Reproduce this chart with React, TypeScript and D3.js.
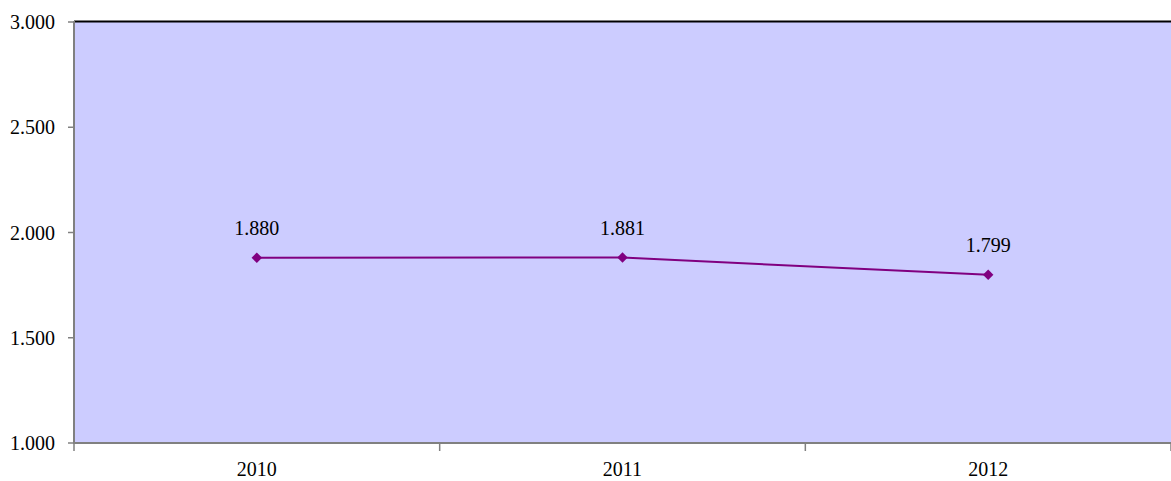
import React from "react";
import * as d3 from "d3";

const categories = ["2010", "2011", "2012"];
const values = [1.88, 1.881, 1.799];
const yTicks = [1.0, 1.5, 2.0, 2.5, 3.0];

const W = 1171;
const H = 481;
const M = { left: 74, right: 1171, top: 22, bottom: 443 };

export default function App() {
  const x = d3.scaleBand<string>().domain(categories).range([M.left, M.right]);
  const y = d3.scaleLinear().domain([1, 3]).range([M.bottom, M.top]);
  const fmt = (v: number) => d3.format(".3f")(v);
  const line = d3
    .line<number>()
    .x((_, i) => (x(categories[i]) as number) + x.bandwidth() / 2)
    .y((d) => y(d));
  const bounds = [...categories.map((c) => x(c) as number), M.right];
  const diamond = d3.symbol().type(d3.symbolDiamond2).size(70)();
  const font = "'Liberation Serif', 'Times New Roman', serif";
  const fs = 20;

  return (
    <svg
      width={W}
      height={H}
      style={{ position: "absolute", left: 0, top: 0 }}
      fontFamily={font}
    >
      <rect x={M.left} y={M.top} width={M.right - M.left} height={M.bottom - M.top} fill="#CCCCFF" />
      <line x1={M.left} x2={M.right} y1={M.top - 0.5} y2={M.top - 0.5} stroke="#000" strokeWidth={2} />
      {yTicks.map((t) => (
        <g key={t}>
          <line x1={M.left - 6} x2={M.left} y1={y(t)} y2={y(t)} stroke="#808080" strokeWidth={1.5} />
          <text x={55} y={y(t)} dy="0.35em" textAnchor="end" fontSize={fs} fill="#000">
            {fmt(t)}
          </text>
        </g>
      ))}
      <line x1={M.left} x2={M.left} y1={M.top - 1} y2={M.bottom + 1} stroke="#808080" strokeWidth={2} />
      <line x1={M.left} x2={M.right} y1={M.bottom} y2={M.bottom} stroke="#808080" strokeWidth={2} />
      {bounds.map((b, i) => (
        <line key={i} x1={b} x2={b} y1={M.bottom} y2={M.bottom + 8} stroke="#808080" strokeWidth={1.5} />
      ))}
      {categories.map((c) => (
        <text key={c} x={(x(c) as number) + x.bandwidth() / 2} y={476} textAnchor="middle" fontSize={fs} fill="#000">
          {c}
        </text>
      ))}
      <path d={line(values) as string} fill="none" stroke="#800080" strokeWidth={2} />
      {values.map((v, i) => {
        const cx = (x(categories[i]) as number) + x.bandwidth() / 2;
        return (
          <g key={i}>
            <path d={diamond as string} transform={`translate(${cx},${y(v)})`} fill="#800080" />
            <text x={cx} y={y(v) - 23} textAnchor="middle" fontSize={fs} fill="#000">
              {fmt(v)}
            </text>
          </g>
        );
      })}
    </svg>
  );
}
